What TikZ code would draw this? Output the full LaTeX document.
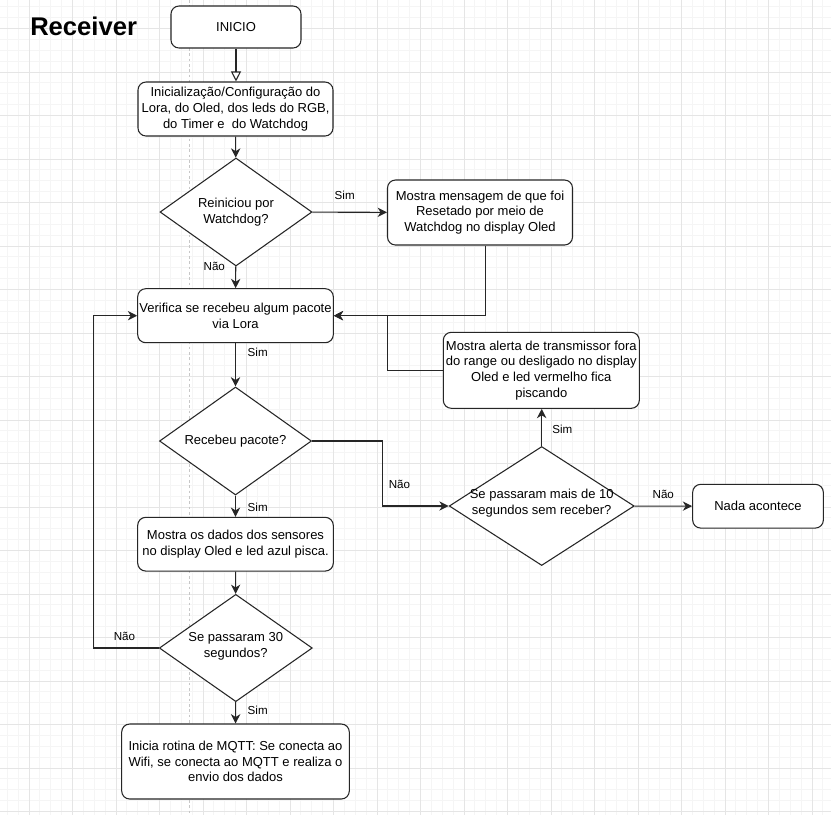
\documentclass[tikz,border=0pt]{standalone}
\usepackage{fontspec}
\setmainfont{Liberation Sans}
\usetikzlibrary{arrows.meta,shapes.geometric}
\tikzset{
	box/.style={draw=black!85, line width=0.8pt, rounded corners=6pt, fill=white, align=center, inner sep=0pt, font=\fontsize{9.75}{11.8}\selectfont},
	decision/.style={draw=black!85, line width=0.8pt, diamond, fill=white, inner sep=0pt},
	dtext/.style={align=center, inner sep=0pt, font=\fontsize{9.75}{11.8}\selectfont},
	flow/.style={draw=black!85, line width=0.8pt, -{Stealth[length=7pt,width=7pt,inset=2.2pt]}},
	openflow/.style={draw=black!85, line width=0.8pt, -{Triangle[open,length=7.5pt,width=7.5pt,fill=white]}},
	lbl/.style={inner sep=0pt, text height=0.72em, text depth=0pt, font=\fontsize{8.7}{10}\selectfont},
	minorgrid/.style={draw=black!4, line width=0.75pt},
	majorgrid/.style={draw=black!10, line width=0.75pt}
}

\begin{document}
\begin{tikzpicture}[x=0.75pt, y=-0.75pt]
		%%%%% START %%%%%
		\useasboundingbox (0,0) rectangle (831,815);
		\fill[white] (0,0) rectangle (831,815);
		
		% grid
		\foreach \i in {-3,...,74} \draw[minorgrid] ({29+10.875*\i},0) -- ({29+10.875*\i},815);
		\foreach \i in {-3,...,73} \draw[minorgrid] (0,{28.5+10.875*\i}) -- (831,{28.5+10.875*\i});
		\foreach \i in {-1,...,18} \draw[majorgrid] ({29+43.5*\i},0) -- ({29+43.5*\i},815);
		\foreach \i in {-1,...,18} \draw[majorgrid] (0,{28.5+43.5*\i}) -- (831,{28.5+43.5*\i});
		\draw[black!22, line width=0.75pt, dash pattern=on 2pt off 2pt] (189.5,0) -- (189.5,815);
		
		\node[anchor=base west, inner sep=0pt, font=\bfseries\fontsize{19.2}{23}\selectfont] (title) at (30,35.7) {Receiver};
		
		\node[box, minimum width=97.5pt, minimum height=31.5pt] (start) at (236,27) {INICIO};
		\node[box, minimum width=146.25pt, minimum height=40.5pt] (init) at (235.5,109) {Inicialização/Configuração do\\Lora, do Oled, dos leds do RGB,\\do Timer e\ \ do Watchdog};
		\node[decision, minimum width=114pt, minimum height=81pt, label={[dtext]center:{Reiniciou por\\Watchdog?}}] (reboot) at (236,212) {};
		\node[box, minimum width=138.75pt, minimum height=48.75pt] (resetmsg) at (480,212.5) {Mostra mensagem de que foi\\Resetado por meio de\\Watchdog no display Oled};
		\node[box, minimum width=146.7pt, minimum height=40.5pt] (check) at (235.5,315.7) {Verifica se recebeu algum pacote\\via Lora};
		\node[decision, minimum width=114pt, minimum height=81pt, label={[dtext]center:{Recebeu pacote?}}] (received) at (235.5,441) {};
		\node[box, minimum width=147pt, minimum height=57pt] (alert) at (541.3,370.3) {Mostra alerta de transmissor fora\\do range ou desligado no display\\Oled e led vermelho fica\\piscando};
		\node[decision, minimum width=138.75pt, minimum height=89.25pt, label={[dtext, yshift=2pt]center:{Se passaram mais de 10\\segundos sem receber?}}] (timeout) at (541.7,506) {};
		\node[box, minimum width=98pt, minimum height=32.8pt] (nothing) at (758,506.2) {Nada acontece};
		\node[box, minimum width=146.7pt, minimum height=40.3pt] (sensors) at (235.5,544.2) {Mostra os dados dos sensores\\no display Oled e led azul pisca.};
		\node[decision, minimum width=114.75pt, minimum height=80.5pt, label={[dtext, yshift=1.5pt]center:{Se passaram 30\\segundos?}}] (wait) at (235.8,648) {};
		\node[box, minimum width=170.7pt, minimum height=56.25pt] (mqtt) at (235.5,761.5) {Inicia rotina de MQTT: Se conecta ao\\Wifi, se conecta ao MQTT e realiza o\\envio dos dados};
		
		% connectors
		\draw[openflow] (start.south) -- (start.south |- init.north);
		\draw[flow] (init) -- (reboot);
		\draw[flow] (reboot) -- (resetmsg);
		\draw[flow] ([xshift=4.3pt]resetmsg.south) |- (check.east);
		\draw[flow] (reboot) -- (check);
		\draw[flow] (check) -- (received);
		\draw[flow] (received.east) -- ++(70,0) |- (timeout.west);
		\draw[flow] (timeout.north) -- (timeout.north |- alert.south);
		\draw[flow] (alert.west) -- ++(-55,0) |- (check.east);
		\draw[flow] (timeout) -- (nothing);
		\draw[flow] (received) -- (sensors);
		\draw[flow] (sensors) -- (wait);
		\draw[flow] (wait) -- (mqtt);
		\draw[flow] (wait.west) -- ++(-65,0) |- (check.west);
		
		% labels
		\node[lbl] (yes1) at (344.7,195) {Sim};
		\node[lbl] (no1) at (214.3,266) {Não};
		\node[lbl] (yes2) at (257.7,351.7) {Sim};
		\node[lbl] (no2) at (399.5,483.5) {Não};
		\node[lbl] (yes3) at (257.7,506.7) {Sim};
		\node[lbl] (yes4) at (562.3,428.3) {Sim};
		\node[lbl] (no3) at (663.3,493.3) {Não};
		\node[lbl] (no4) at (124.5,636) {Não};
		\node[lbl] (yes5) at (257.7,710) {Sim};
		%%%%% END %%%%%
	\end{tikzpicture}
\end{document}
